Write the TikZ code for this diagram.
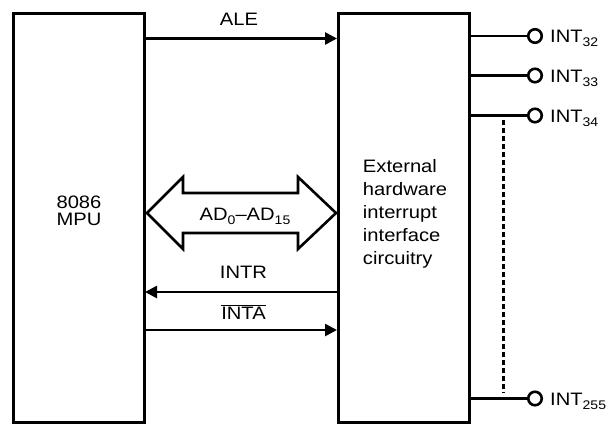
\documentclass[tikz,border=0pt]{standalone}
\usepackage{fontspec}
\setmainfont[FakeStretch=1.12]{Liberation Sans}
\usetikzlibrary{arrows.meta}
\newcommand{\lowsub}[1]{\raisebox{-4pt}{\fontsize{12.5}{12.5}\selectfont #1}}
\begin{document}
\begin{tikzpicture}[x=1pt,y=-1pt,
  box/.style={draw,line width=3pt,inner sep=0pt},
  sig/.style={line width=2.6pt,-{Triangle[length=12pt,width=12pt]}},
  lead/.style={line width=2.6pt},
  term/.style={circle,draw,line width=2.6pt,minimum size=13.5pt,inner sep=0pt},
  lbl/.style={inner sep=0pt},
  every node/.style={font=\fontsize{18}{22}\selectfont}]
\useasboundingbox (0,0) rectangle (610,424);
\node[box,minimum width=130.5pt,minimum height=409.5pt] (mpu) at (78.75,218) {};
\node[align=center,font=\fontsize{18}{16.5}\selectfont] (mputxt) at (79,211) {8086\\MPU};
\node[box,minimum width=131pt,minimum height=409.5pt] (ext) at (403.5,218) {};
\node[align=left,font=\fontsize{18}{23}\selectfont] (exttxt) at (405,214) {External\\hardware\\interrupt\\interface\\circuitry};
% ALE
\coordinate (ale1) at (144,38.5);
\coordinate (ale2) at (337,38.5);
\draw[sig] (ale1) -- (ale2);
\node[lbl] (alel) at (239,19) {ALE};
% bus double arrow
\draw[line width=2.6pt,fill=white,line join=miter] (147,213) -- (183,177) -- (183,193) -- (298,193) -- (298,177) -- (336,213)
  -- (298,249) -- (298,233) -- (183,233) -- (183,249) -- cycle;
\node[lbl,anchor=base] (bus) at (245,220) {AD\lowsub{0}–AD\lowsub{15}};
% INTR
\coordinate (intr1) at (337,292);
\coordinate (intr2) at (145,292);
\draw[sig] (intr1) -- (intr2);
\node[lbl] (intrl) at (243.5,272) {INTR};
% INTA
\coordinate (inta1) at (144,330);
\coordinate (inta2) at (337,330);
\draw[sig] (inta1) -- (inta2);
\node[lbl] (intal) at (243.5,312) {$\overline{\mbox{INTA}}$};
% outputs
\foreach \n/\y/\s in {a/36/32,b/75.5/33,c/115.5/34,d/398.5/255}{
  \node[term] (t\n) at (535,\y) {};
  \draw[lead] (469,\y) -- (t\n.west);
  \node[anchor=base west,inner sep=0pt] (l\n) at (550,\y+6.5) {INT\lowsub{\s}};
}
\draw[line width=2.3pt,dash pattern=on 5pt off 3pt] (503.5,120) -- (503.5,393);
\end{tikzpicture}
\end{document}
